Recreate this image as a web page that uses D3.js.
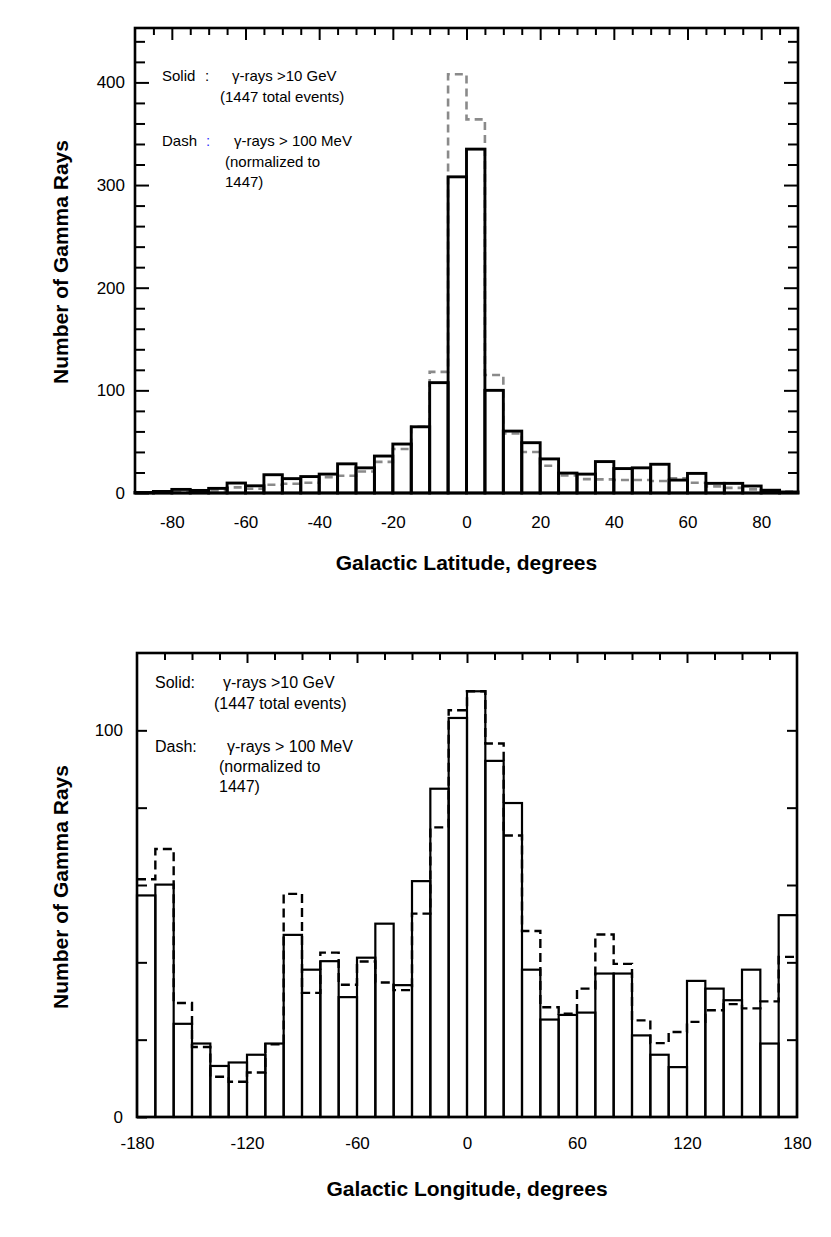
<!DOCTYPE html>
<html><head><meta charset="utf-8">
<script src="https://cdn.jsdelivr.net/npm/d3@7"></script>
<style>body{margin:0;background:#fff} text{font-family:"Liberation Sans",Arial,sans-serif;fill:#000}</style>
</head><body><svg id="c" width="831" height="1237"></svg>
<script>
// ---------- Galactic latitude histogram (5-degree bins) ----------
const latBinStarts = [-90,-85,-80,-75,-70,-65,-60,-55,-50,-45,-40,-35,-30,-25,-20,-15,-10,-5,
                      0,5,10,15,20,25,30,35,40,45,50,55,60,65,70,75,80,85];
const latSolid = [0.5,1.5,3.5,2.5,4.5,9.7,7,17.8,14,16,18.4,28.4,24.5,36,47.7,64.5,107.5,308,
                  335,100,60.3,49,33.2,19.4,18.4,30.6,23.8,24.5,28,12.6,19.1,9.4,9.4,6.8,2.7,1];
const latDash  = [0.3,1,1,1.5,2.5,5.5,4.2,8,9,10,15.5,16.8,21,30.3,42.9,64.5,118,408,
                  364,115,58,40,26.5,17.1,13.5,13.3,12.6,12.6,11.7,14.4,10,6.5,5,3.5,1,1.3];
const latXTicks = [-80,-60,-40,-20,0,20,40,60,80];
const latYTicks = [0,100,200,300,400];

// ---------- Galactic longitude histogram (10-degree bins) ----------
const lonBinStarts = [-180,-170,-160,-150,-140,-130,-120,-110,-100,-90,-80,-70,-60,-50,-40,-30,-20,-10,
                      0,10,20,30,40,50,60,70,80,90,100,110,120,130,140,150,160,170];
const lonSolid = [57.3,60.1,24.1,19.0,13.2,14.1,16.1,19.0,47.1,38.1,40.3,31.0,41.2,50.0,34.1,61.0,84.9,103.2,
                  110.1,92.1,81.2,38.1,25.2,26.4,27.0,37.1,37.1,21.1,16.1,12.9,35.2,33.2,30.2,38.1,19.0,52.2];
const lonDash  = [61.5,69.3,29.5,18.1,10.4,9.1,11.5,18.8,57.7,32.1,42.5,34.2,40.2,34.8,32.8,52.6,74.9,105.2,
                  110.1,96.6,72.8,48.1,28.4,26.7,33.2,47.2,39.6,25.0,19.1,22.0,24.6,27.6,29.2,28.1,29.9,41.4];
const lonXTicks = [-180,-120,-60,0,60,120,180];
const lonYTicks = [0,100];

const svg = d3.select("#c");

function panel(o){
  const g = svg.append("g");
  const x = d3.scaleLinear().domain(o.xDomain).range([o.left, o.right]);
  const y = d3.scaleLinear().domain(o.yDomain).range([o.bottom, o.top]);
  const bins = o.starts.map((s,i)=>({x0:s, x1:s+o.binW, s:o.solid[i], d:o.dash[i]}));

  // dashed step outline
  const pts = [];
  bins.forEach(b=>{ pts.push([x(b.x0), y(b.d)]); pts.push([x(b.x1), y(b.d)]); });
  g.append("path").attr("d", d3.line()(pts))
    .attr("fill","none").attr("stroke", o.dashColor).attr("stroke-width", o.dashW)
    .attr("stroke-dasharray", o.dashArr);

  // solid histogram bars
  g.selectAll("rect.bar").data(bins).join("rect").attr("class","bar")
    .attr("x", d=>x(d.x0)).attr("width", d=>x(d.x1)-x(d.x0))
    .attr("y", d=>y(d.s)).attr("height", d=>y(0)-y(d.s))
    .attr("fill","none").attr("stroke","#000").attr("stroke-width", o.barW);

  const fmt = d=>String(d);
  function ax(gen, tr, vals, len, lab, pad){
    const a = gen.tickValues(vals).tickSize(-len).tickPadding(pad||0)
      .tickFormat(lab ? fmt : "");
    const s = g.append("g").attr("transform", tr).call(a);
    s.select(".domain").remove();
    s.selectAll(".tick line").attr("stroke","#000").attr("stroke-width", o.tickW);
    s.selectAll("text").attr("font-size", o.tickFont).attr("fill","#000")
      .attr("font-family","'Liberation Sans',Arial,sans-serif");
    return s;
  }
  // left
  ax(d3.axisLeft(y), `translate(${o.left},0)`, o.yMajor, o.yMajLen, true, o.yPad);
  ax(d3.axisLeft(y), `translate(${o.left},0)`, o.yMinor, o.yMinLen, false);
  // right
  ax(d3.axisRight(y), `translate(${o.right},0)`, o.yMajor.filter(v=>v>0), o.yMajLen, false);
  ax(d3.axisRight(y), `translate(${o.right},0)`, o.yMinor, o.yMinLen, false);
  // top
  ax(d3.axisTop(x), `translate(0,${o.top})`, o.xTopMajor, o.xTopMajLen, false);
  ax(d3.axisTop(x), `translate(0,${o.top})`, o.xTopMinor, o.xTopMinLen, false);
  // bottom labels
  ax(d3.axisBottom(x), `translate(0,${o.bottom})`, o.xLabels, 0, true, o.xPad);

  // frame
  g.append("rect").attr("x",o.left).attr("y",o.top).attr("width",o.right-o.left).attr("height",o.bottom-o.top)
    .attr("fill","none").attr("stroke","#000").attr("stroke-width",o.frameW);

  // titles
  g.append("text").attr("x",(o.left+o.right)/2).attr("y",o.xTitleY).attr("text-anchor","middle")
    .attr("font-size",o.titleFont).attr("font-weight","bold").text(o.xTitle);
  g.append("text").attr("transform",`translate(${o.yTitleX},${o.yTitleY}) rotate(-90)`)
    .attr("text-anchor","middle").attr("font-size",o.titleFont).attr("font-weight","bold")
    .text("Number of Gamma Rays");

  // legend
  o.legend.forEach(t=>{
    g.append("text").attr("x",t[0]).attr("y",t[1]).attr("font-size",o.legFont)
      .style("fill", t[3]||"#000").text(t[2]);
  });
}

panel({
  xDomain:[-90,90], yDomain:[0,453], left:135, right:798, top:28, bottom:493,
  starts:latBinStarts, binW:5, solid:latSolid, dash:latDash,
  dashColor:"#8a8a8a", dashW:2.6, dashArr:"8,5", barW:2.9, tickW:2, frameW:2.6,
  yMajor:latYTicks, yMinor:d3.range(20,453,20).filter(v=>v%100!==0), yMajLen:14, yMinLen:10, yPad:10,
  xTopMajor:latXTicks, xTopMinor:d3.range(-85,90,5).filter(v=>v%20!==0), xTopMajLen:12, xTopMinLen:7,
  xLabels:latXTicks, xPad:23, tickFont:17,
  xTitle:"Galactic Latitude, degrees", xTitleY:570, yTitleX:68, yTitleY:262, titleFont:21,
  legFont:15,
  legend:[[162,81,"Solid"],[205,81,":"],[232,81,"\u03b3-rays >10 GeV"],[220,102,"(1447 total events)"],
          [162,146,"Dash"],[206,146,":","#3333ff"],[234,146,"\u03b3-rays > 100 MeV"],
          [225,167,"(normalized to"],[225,187,"1447)"]]
});

panel({
  xDomain:[-180,180], yDomain:[0,120], left:137, right:797, top:653, bottom:1117,
  starts:lonBinStarts, binW:10, solid:lonSolid, dash:lonDash,
  dashColor:"#000", dashW:2.4, dashArr:"9,5", barW:2.2, tickW:2, frameW:2.6,
  yMajor:lonYTicks, yMinor:[20,40,60,80], yMajLen:10, yMinLen:10, yPad:14,
  xTopMajor:[-120,-60,0,60,120], xTopMinor:d3.range(-165,180,15).filter(v=>v%60!==0), xTopMajLen:10, xTopMinLen:7,
  xLabels:lonXTicks, xPad:20, tickFont:17,
  xTitle:"Galactic Longitude, degrees", xTitleY:1196, yTitleX:68, yTitleY:887, titleFont:21,
  legFont:16,
  legend:[[155,688,"Solid:"],[223,688,"\u03b3-rays >10 GeV"],[214,709,"(1447 total events)"],
          [155,752,"Dash:"],[227,752,"\u03b3-rays > 100 MeV"],[219,772,"(normalized to"],[219,792,"1447)"]]
});
</script></body></html>
